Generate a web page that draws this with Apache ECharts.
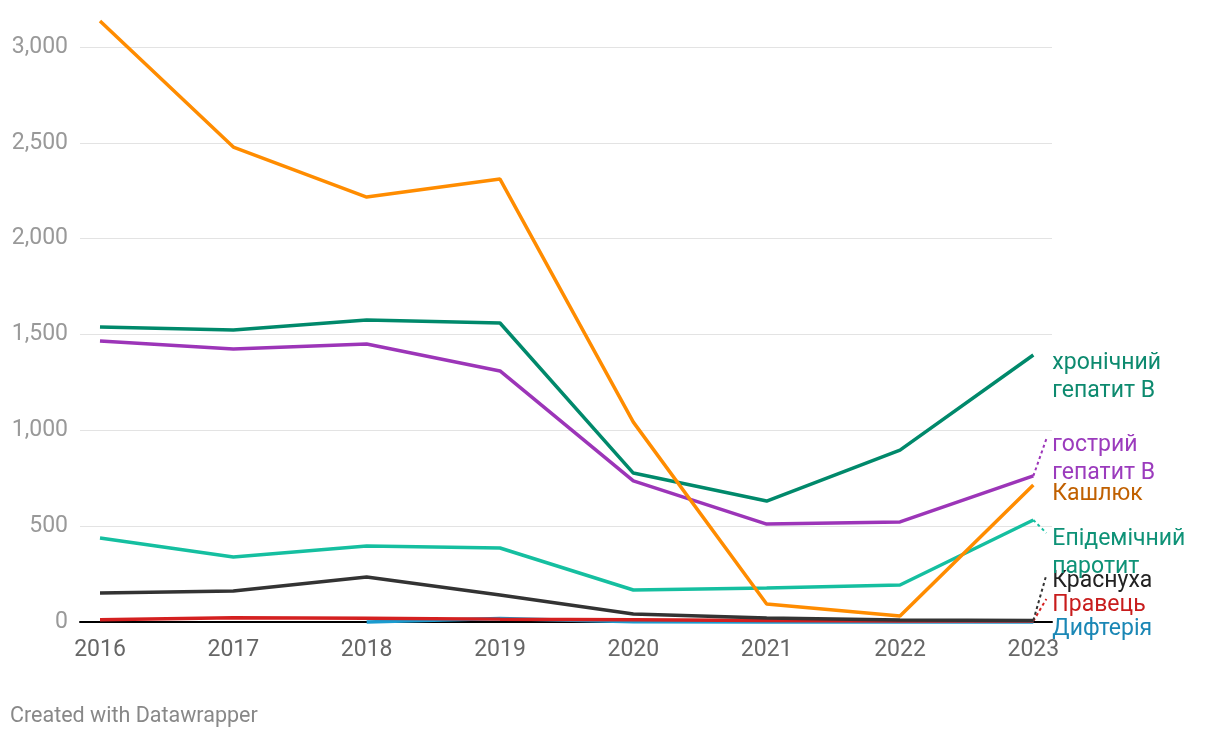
<!DOCTYPE html>
<html><head><meta charset="utf-8">
<script src="https://cdn.jsdelivr.net/npm/echarts@6/dist/echarts.min.js"></script>
<style>html,body{margin:0;padding:0;background:#fff}#c{width:1220px;height:738px}</style>
</head><body><div id="c"></div>
<script>
const years = [2016, 2017, 2018, 2019, 2020, 2021, 2022, 2023];
const yTicks = [0, 500, 1000, 1500, 2000, 2500, 3000];
const names = ['Дифтерія', 'Правець', 'Краснуха', 'Епідемічний паротит', 'гострий гепатит B', 'хронічний гепатит B', 'Кашлюк'];
const diphtheria = [null, null, 0, 18, 1, 0, 0, 0];
const tetanus = [12, 22, 20, 15, 12, 8, 5, 5];
const rubella = [151, 162, 235, 141, 42, 21, 10, 8];
const mumps = [438, 339, 397, 386, 167, 177, 193, 532];
const acuteHepB = [1466, 1424, 1450, 1310, 736, 511, 522, 762];
const chronicHepB = [1539, 1523, 1576, 1560, 777, 631, 897, 1393];
const pertussis = [3136, 2478, 2217, 2311, 1043, 94, 31, 715];
const seriesValues = [diphtheria, tetanus, rubella, mumps, acuteHepB, chronicHepB, pertussis];
const lineColors = ['#1a9bcf', '#d42020', '#333333', '#15bfa0', '#9c35b8', '#00896b', '#ff8c00'];
const labelColors = ['#1a87b5', '#c81c1c', '#222222', '#0e9277', '#9b3bbd', '#0d8a6f', '#c06000'];
const labelTexts = ['Дифтерія', 'Правець', 'Краснуха', 'Епідемічний\nпаротит', 'гострий\nгепатит B', 'хронічний\nгепатит B', 'Кашлюк'];
// label top positions (pixels), and whether a dotted connector is drawn
const labelTop = [615, 591, 567, 525, 431, 349, 480];
const connector = [false, true, true, true, true, false, false];

const chart = echarts.init(document.getElementById('c'));
const font = 'Roboto, "Noto Sans", sans-serif';
chart.setOption({
  animation: false,
  grid: { left: 80, right: 168, top: 47, bottom: 116, containLabel: false },
  xAxis: {
    type: 'value', min: 2015.85, max: 2023.14,
    splitLine: { show: false },
    axisLine: { show: true, onZero: false, lineStyle: { color: '#000', width: 2 } },
    axisTick: { show: false },
    axisLabel: { customValues: years, color: '#666', fontSize: 23, fontFamily: font, margin: 17, formatter: v => String(v) }
  },
  yAxis: {
    type: 'value', min: 0, max: 3000, interval: 500,
    axisLine: { show: false }, axisTick: { show: false },
    splitLine: { lineStyle: { color: '#e3e3e3', width: 1 } },
    axisLabel: { color: '#999', fontSize: 23, fontFamily: font, margin: 12,
      formatter: v => v === 0 ? '0' : v.toLocaleString('en-US') }
  },
  series: seriesValues.map((vals, i) => ({
    name: names[i], type: 'line', clip: false, symbol: 'none',
    lineStyle: { color: lineColors[i], width: 3.5 },
    data: years.map((y, j) => [y, vals[j]])
  }))
});

const gr = [];
gr.push({ type: 'text', left: 10, top: 706, style: { text: 'Created with Datawrapper', fill: '#888', font: '21.5px ' + font } });
seriesValues.forEach((vals, i) => {
  const last = vals[vals.length - 1];
  const p = chart.convertToPixel({ gridIndex: 0 }, [years[years.length - 1], last]);
  const lx = p[0] + 19;
  gr.push({ type: 'text', x: lx, y: labelTop[i],
    style: { text: labelTexts[i], fill: labelColors[i], font: '23px ' + font, lineHeight: 28 } });
  if (connector[i]) {
    gr.push({ type: 'line', shape: { x1: p[0], y1: p[1], x2: lx - 6, y2: labelTop[i] + 8 },
      style: { stroke: lineColors[i], lineWidth: 2, lineDash: [3, 3] } });
  }
});
chart.setOption({ graphic: gr });
</script></body></html>
